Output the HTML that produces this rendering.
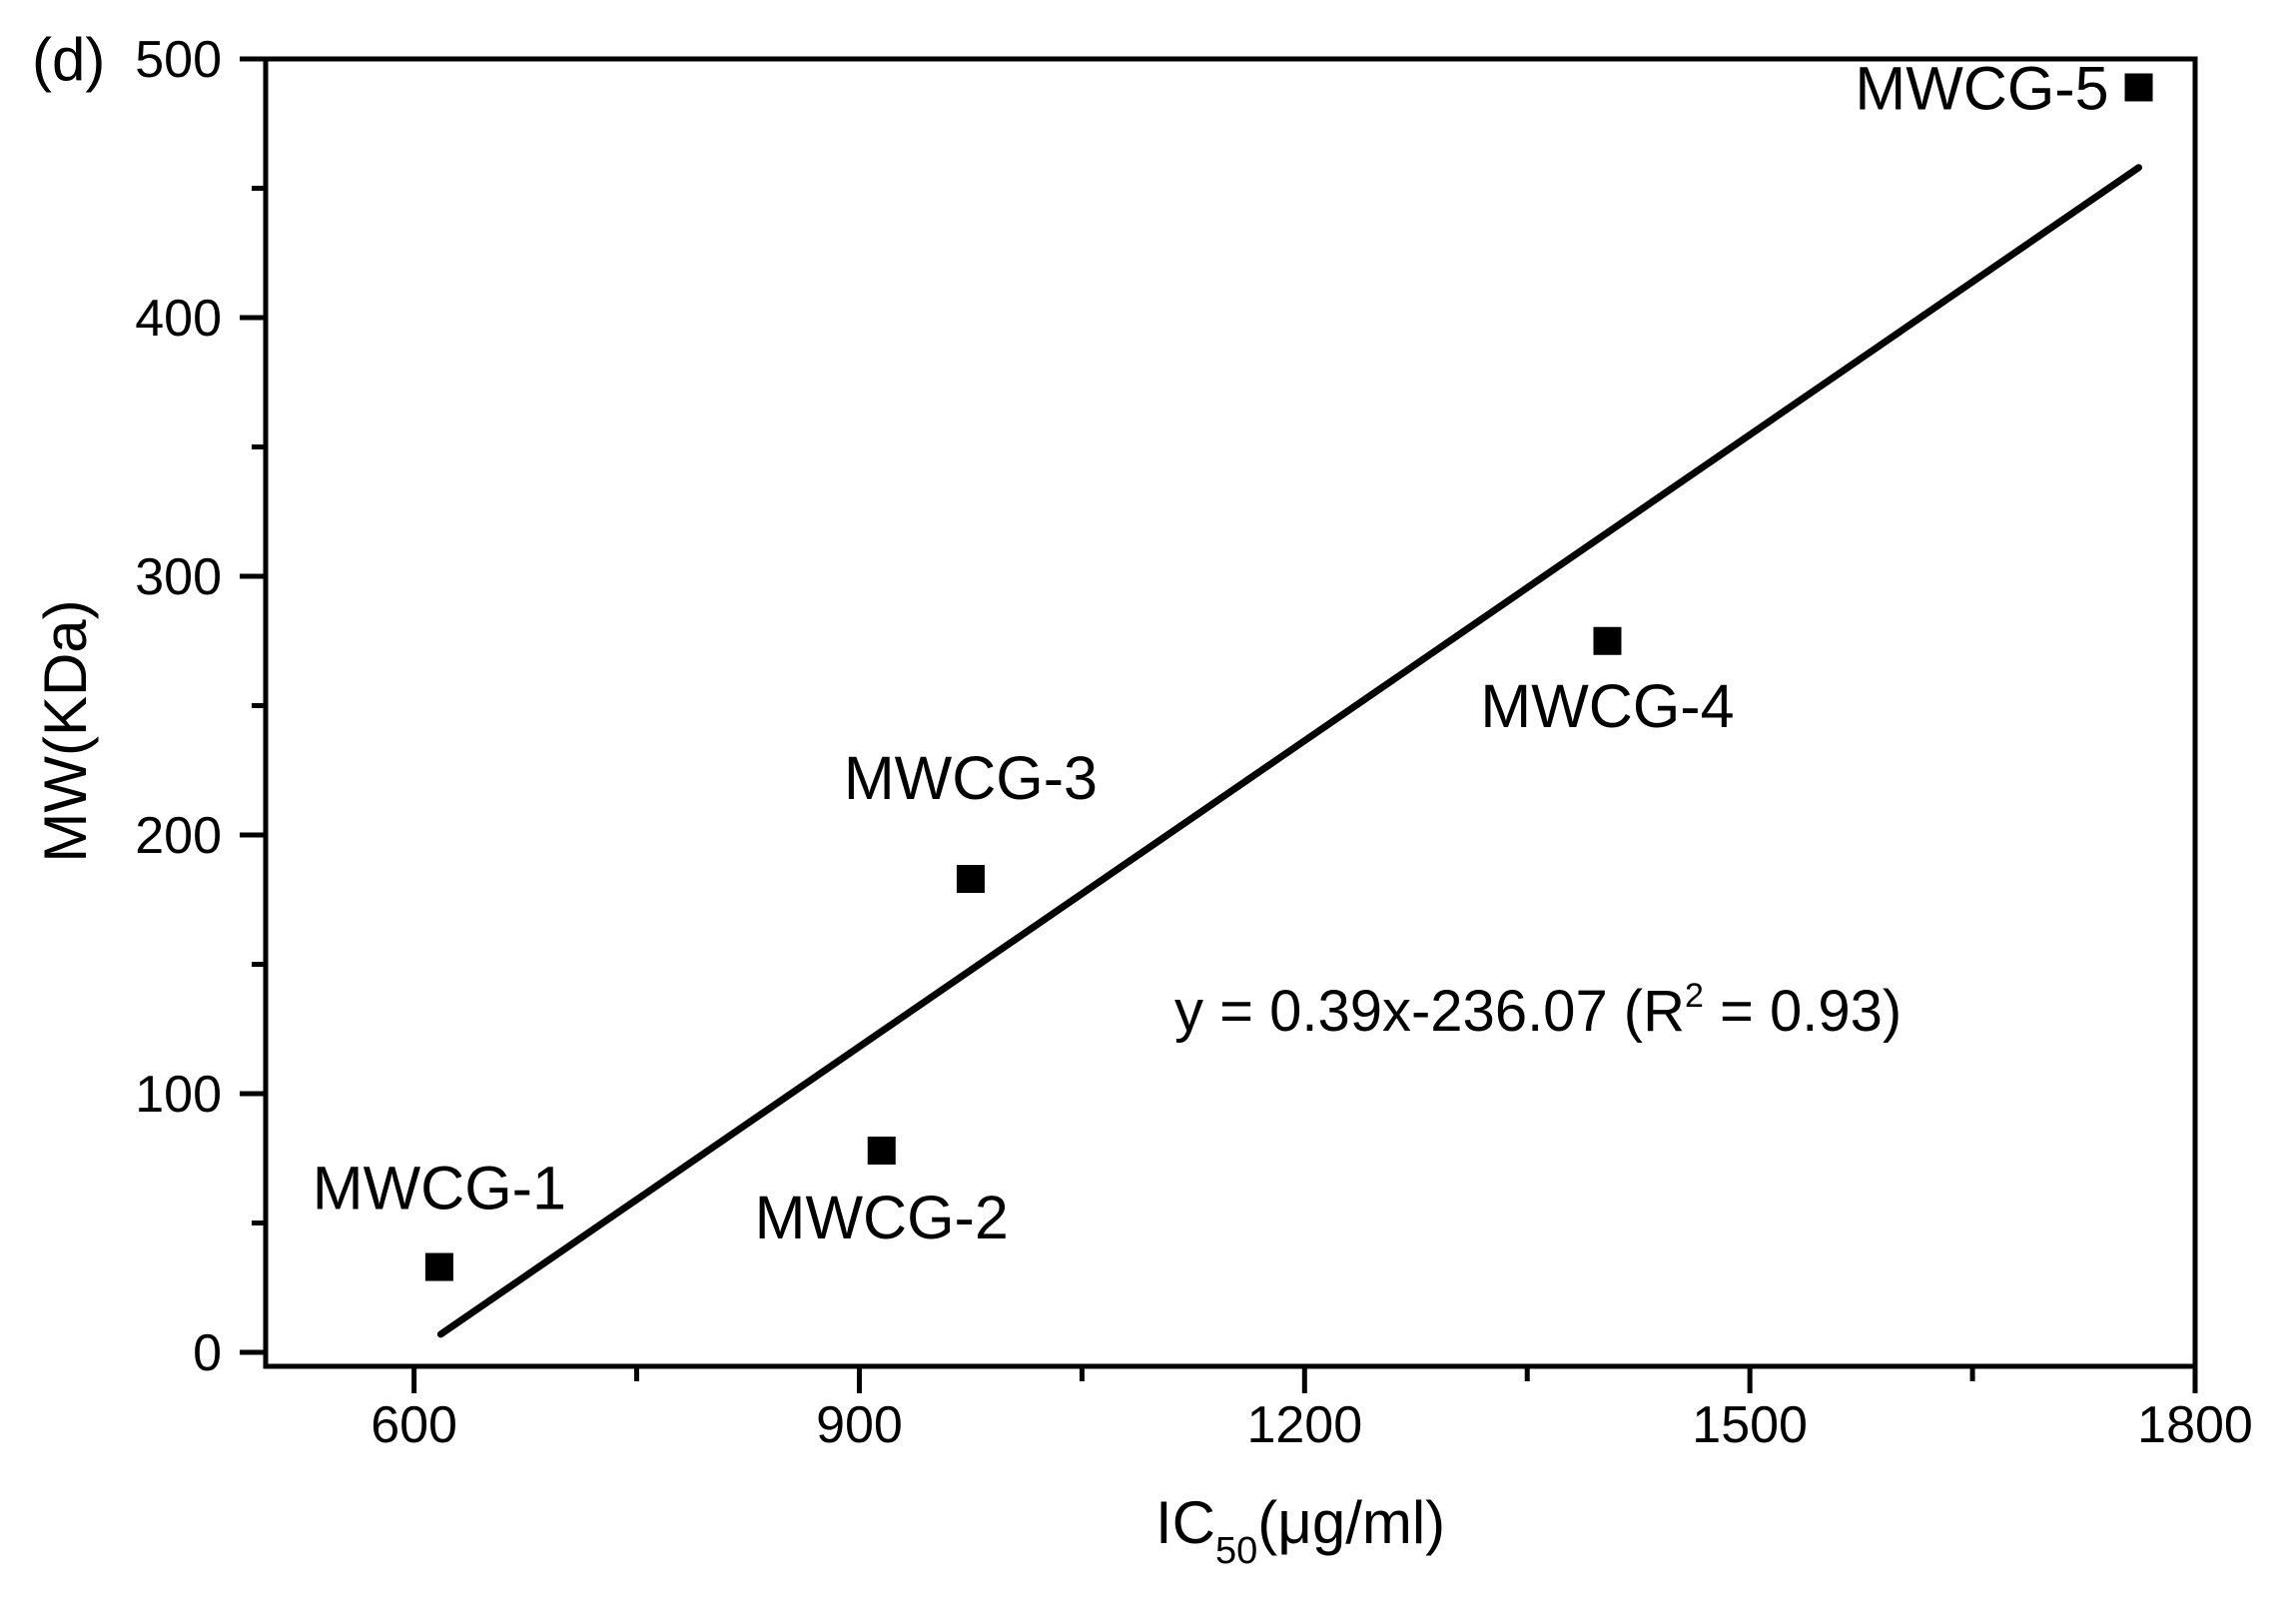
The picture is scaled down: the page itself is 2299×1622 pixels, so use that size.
<!DOCTYPE html>
<html><head><meta charset="utf-8"><style>
html,body{margin:0;padding:0;background:#fff}
svg{display:block}
text{font-family:"Liberation Sans",Arial,sans-serif;fill:#000}
</style></head><body>
<svg id="chart" width="2299" height="1622" viewBox="0 0 2299 1622" xmlns="http://www.w3.org/2000/svg">
<g id="plot"></g>
</svg>
<script>
const names=["MWCG-1","MWCG-2","MWCG-3","MWCG-4","MWCG-5"];
const icValues=[617,915,975,1404,1762];
const mwValues=[33,78,183,275,489];
const fitX=[618,1762];
const fitY=[7,458];
const xTicks=[600,900,1200,1500,1800];
const yTicks=[0,100,200,300,400,500];
const labelDx=[0,0,0,0,0];
const labelDy=[-58,88,-80,86,0];

const X0=266,X1=2198,Y0=1368,Y1=59;
const xMin=500,xMax=1800,yMin=-5.4,yMax=500;
function sx(v){return X0+(v-xMin)/(xMax-xMin)*(X1-X0);}
function sy(v){return Y0-(v-yMin)/(yMax-yMin)*(Y0-Y1);}
const NS="http://www.w3.org/2000/svg";
const g=document.getElementById('plot');
function mk(t,a,p){const e=document.createElementNS(NS,t);for(const k in a)e.setAttribute(k,a[k]);(p||g).appendChild(e);return e;}

const frame=mk('rect',{x:X0,y:Y1,width:X1-X0,height:Y0-Y1,fill:'none',stroke:'#000','stroke-width':5});



xTicks.forEach((v,i)=>{
  const x=sx(v);
  const t=mk('line',{x1:x,y1:Y0,x2:x,y2:Y0+27,stroke:'#000','stroke-width':5});
  
  
  const l=mk('text',{x:x,y:Y0+76,'font-size':52,'text-anchor':'middle'});
  l.textContent=v;
  
  
  if(i<xTicks.length-1){
    const m=sx(v+150);
    const mt=mk('line',{x1:m,y1:Y0,x2:m,y2:Y0+15,stroke:'#000','stroke-width':5});
    
    
  }
});
yTicks.forEach((v,i)=>{
  const y=sy(v);
  const t=mk('line',{x1:X0-26,y1:y,x2:X0,y2:y,stroke:'#000','stroke-width':5});
  
  
  const l=mk('text',{x:X0-44,y:y+18,'font-size':52,'text-anchor':'end'});
  l.textContent=v;
  
  
  if(i<yTicks.length-1){
    const m=sy(v+50);
    const mt=mk('line',{x1:X0-14,y1:m,x2:X0,y2:m,stroke:'#000','stroke-width':5});
    
    
  }
});

const fit=mk('line',{x1:sx(fitX[0]),y1:sy(fitY[0]),x2:sx(fitX[1]),y2:sy(fitY[1]),stroke:'#000','stroke-width':7,'stroke-linecap':'round'});



names.forEach((n,i)=>{
  const x=sx(icValues[i]),y=sy(mwValues[i]);
  const r=mk('rect',{x:x-14,y:y-14,width:28,height:28,fill:'#000'});
  
  
  const t=mk('text',{x:x+labelDx[i],y:y+labelDy[i],'font-size':61,'text-anchor':'middle'});
  if(i==4){t.setAttribute('x',x-30);t.setAttribute('y',y+22);t.setAttribute('text-anchor','end');}
  t.textContent=n;
  
  
});
</script>
<svg style="position:absolute;left:0;top:0" width="2299" height="1622">
<text x="32" y="80" font-size="60">(d)</text>
<text x="1176" y="1032" font-size="58">y = 0.39x-236.07 (R<tspan dy="-24" font-size="34">2</tspan><tspan dy="24"> = 0.93)</tspan></text>
<text x="1157" y="1545" font-size="60">IC<tspan dy="20" font-size="38">50</tspan><tspan dy="-20">(μg/ml)</tspan></text>
<text transform="translate(86,732) rotate(-90)" text-anchor="middle" font-size="60">MW(KDa)</text>
</svg>
</body></html>
